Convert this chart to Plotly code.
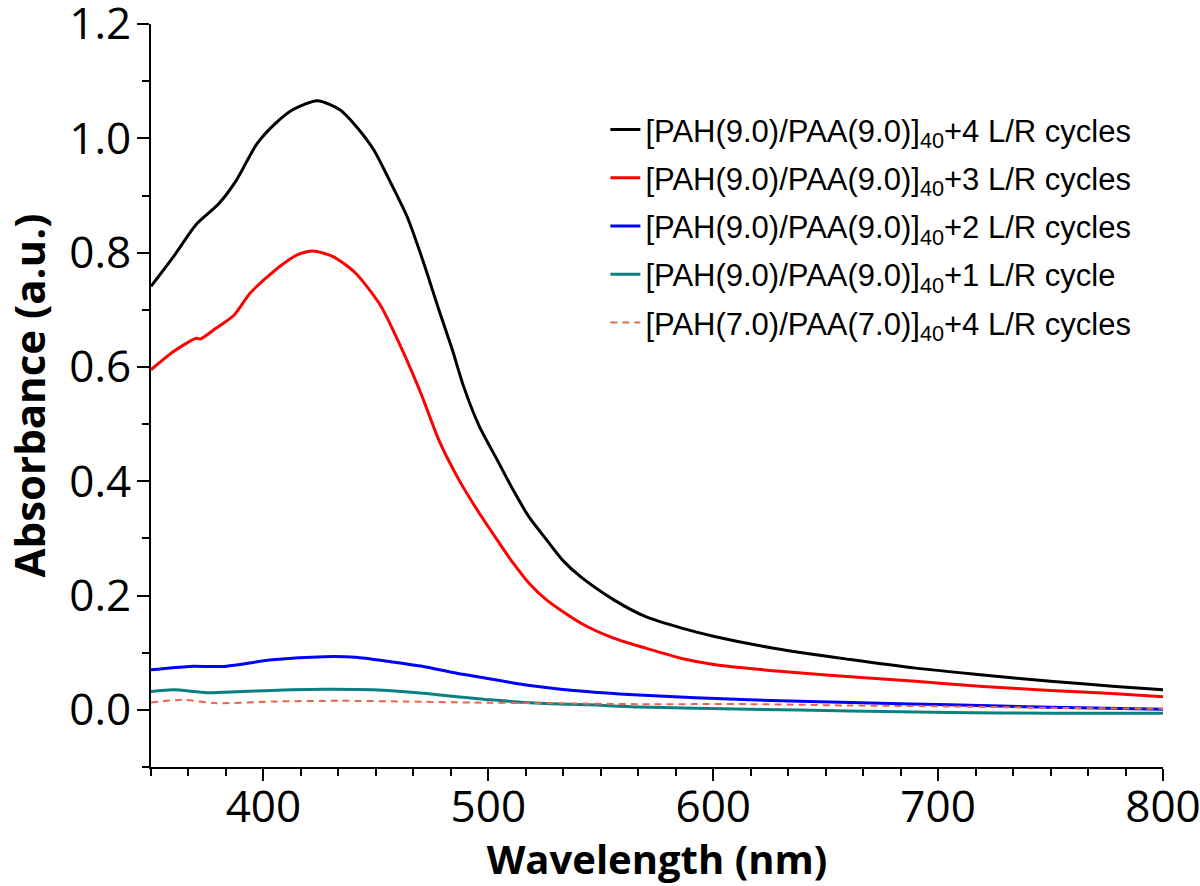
#%%
# UV-vis absorbance spectra of [PAH/PAA]40 multilayers after L/R cycles
#%%
import plotly.graph_objects as go

#%%
# values (wavelength in nm, absorbance in a.u.)

wl_4 = [350, 360, 370, 380, 388, 397, 405, 413, 424, 434, 441, 449, 456, 464, 471, 478, 484,
        489, 496, 504, 511, 518, 526, 533, 541, 556, 570, 586, 601, 631, 661, 690, 720, 750, 779, 800]
abs_4 = [0.741, 0.793, 0.849, 0.885, 0.927, 0.990, 1.025, 1.050, 1.066, 1.050, 1.022, 0.980, 0.927,
         0.862, 0.785, 0.700, 0.630, 0.566, 0.496, 0.437, 0.385, 0.338, 0.297, 0.262, 0.233, 0.192,
         0.163, 0.143, 0.128, 0.105, 0.088, 0.073, 0.061, 0.050, 0.041, 0.035]

wl_3 = [350, 360, 370, 372, 379, 387, 394, 401, 408, 415, 422, 431, 441, 452, 461, 470, 478, 487,
        496, 504, 511, 518, 526, 541, 556, 570, 586, 601, 631, 661, 690, 720, 750, 779, 800]
abs_3 = [0.595, 0.627, 0.650, 0.649, 0.668, 0.691, 0.729, 0.755, 0.778, 0.796, 0.803, 0.793, 0.764,
         0.708, 0.636, 0.554, 0.472, 0.402, 0.344, 0.297, 0.257, 0.222, 0.192, 0.152, 0.125, 0.108,
         0.090, 0.079, 0.067, 0.058, 0.050, 0.041, 0.034, 0.028, 0.023]

wl_2 = [350, 367, 382, 404, 427, 441, 456, 471, 486, 501, 516, 538, 567, 616, 661, 705, 750, 800]
abs_2 = [0.070, 0.076, 0.076, 0.0875, 0.093, 0.092, 0.0845, 0.076, 0.064, 0.054, 0.044, 0.034,
         0.026, 0.0175, 0.0128, 0.0088, 0.0047, 0.0012]

wl_1 = [350, 360, 375, 390, 412, 427, 449, 471, 486, 501, 523, 545, 567, 616, 661, 705, 750, 800]
abs_1 = [0.032, 0.035, 0.030, 0.032, 0.035, 0.036, 0.035, 0.029, 0.023, 0.0175, 0.0117, 0.0088,
         0.0050, 0.0012, -0.0018, -0.0047, -0.006, -0.006]

wl_7 = [350, 364, 379, 404, 434, 464, 493, 523, 567, 616, 661, 705, 750, 800]
abs_7 = [0.0128, 0.0175, 0.0117, 0.0146, 0.0158, 0.0146, 0.0128, 0.0117, 0.010, 0.010, 0.0076,
         0.006, 0.0035, 0.0018]

x_ticks = [400, 500, 600, 700, 800]
y_ticks = [0.0, 0.2, 0.4, 0.6, 0.8, 1.0, 1.2]

#%%
series = [
    (wl_4, abs_4, '[PAH(9.0)/PAA(9.0)]<sub>40</sub>+4 L/R cycles', 'black', 3, 'solid'),
    (wl_3, abs_3, '[PAH(9.0)/PAA(9.0)]<sub>40</sub>+3 L/R cycles', '#ff0000', 3, 'solid'),
    (wl_2, abs_2, '[PAH(9.0)/PAA(9.0)]<sub>40</sub>+2 L/R cycles', '#0000ff', 3, 'solid'),
    (wl_1, abs_1, '[PAH(9.0)/PAA(9.0)]<sub>40</sub>+1 L/R cycle', '#0a8080', 3, 'solid'),
    (wl_7, abs_7, '[PAH(7.0)/PAA(7.0)]<sub>40</sub>+4 L/R cycles', '#e8664f', 2, '7px,5px'),
]

fig = go.Figure()

for i, (x, y, name, color, width, dash) in enumerate(series):
    fig.add_trace(go.Scatter(
        x=x,
        y=y,
        mode='lines',
        line=dict(color=color, width=width, dash=dash, shape='spline', smoothing=0.7),
        name=name,
        legendgroup=str(i),
    ))

axis_font = dict(family='Open Sans', size=44, color='black')

fig.update_layout(
    width=1200,
    height=886,
    margin=dict(l=151, r=37, t=24, b=119),
    plot_bgcolor='white',
    paper_bgcolor='white',
    xaxis=dict(
        title=dict(text='<b>Wavelength (nm)</b>', font=dict(family='Open Sans', size=40, color='black'), standoff=0),
        range=[350, 800.01],
        tickvals=x_ticks,
        ticks='outside',
        ticklen=12,
        tickwidth=2,
        tickcolor='black',
        tickfont=axis_font,
        ticklabelstandoff=-12,
        ticklabeloverflow='allow',
        showline=True,
        linecolor='black',
        linewidth=2,
        showgrid=False,
        zeroline=False,
        automargin=False,
        minor=dict(dtick=100 / 6, tick0=350, ticks='outside', ticklen=7, tickwidth=2, tickcolor='black'),
    ),
    yaxis=dict(
        title=dict(text='<b>Absorbance (a.u.)</b>', font=dict(family='Open Sans', size=42, color='black'), standoff=20),
        range=[-0.1, 1.2001],
        tickvals=y_ticks,
        tickformat='.1f',
        ticks='outside',
        ticklen=12,
        tickwidth=2,
        tickcolor='black',
        tickfont=axis_font,
        ticklabelstandoff=-3,
        ticklabeloverflow='allow',
        showline=True,
        linecolor='black',
        linewidth=2,
        showgrid=False,
        zeroline=False,
        automargin=False,
        minor=dict(dtick=0.1, tick0=0, ticks='outside', ticklen=7, tickwidth=2, tickcolor='black'),
    ),
    legend=dict(
        x=0.449,
        y=0.894,
        xanchor='left',
        yanchor='top',
        bgcolor='rgba(0,0,0,0)',
        font=dict(family='Liberation Sans', size=31, color='black'),
        traceorder='grouped',
        tracegroupgap=5,
    ),
)

# page body has a default 8px margin, drop it so the figure fills the window
fig.write_html("out.html", config={'displayModeBar': False},
               post_script="document.body.style.margin = '0px';")
